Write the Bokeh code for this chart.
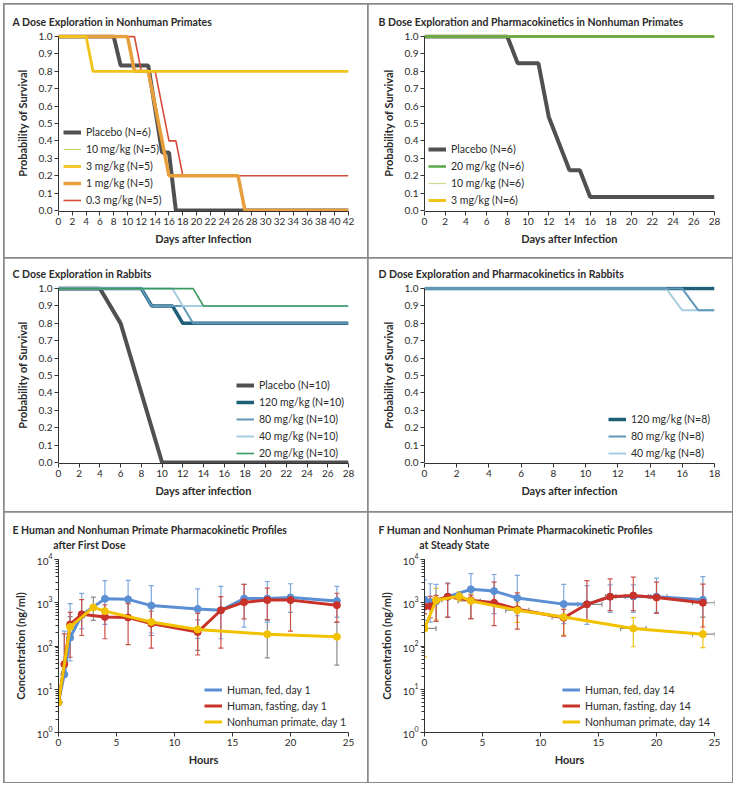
from bokeh.plotting import figure
from bokeh.layouts import column, row
from bokeh.models import (Range1d, FixedTicker, NumeralTickFormatter, Legend, LegendItem,
                          Whisker, ColumnDataSource, TeeHead)
from bokeh.embed import file_html
from bokeh.resources import INLINE

FONT = "Lato"
TXT = "#2b2b2b"

# ---------------- Panel A: Dose exploration in nonhuman primates ----------------
A_placebo_x = [0, 8, 9, 13, 15, 16, 17, 42]
A_placebo_y = [1.0, 1.0, 0.833, 0.833, 0.333, 0.333, 0.0, 0.0]
A_10_x = [0, 10, 11, 42]
A_10_y = [1.0, 1.0, 0.8, 0.8]
A_3_x = [0, 4, 5, 42]
A_3_y = [1.0, 1.0, 0.8, 0.8]
A_1_x = [0, 10, 11, 13, 16, 26, 27, 42]
A_1_y = [1.0, 1.0, 0.8, 0.8, 0.2, 0.2, 0.0, 0.0]
A_03_x = [0, 11, 12, 14, 16, 17, 18, 42]
A_03_y = [1.0, 1.0, 0.8, 0.8, 0.4, 0.4, 0.2, 0.2]
A_xticks = list(range(0, 43, 2))

# ---------------- Panel B ----------------
B_placebo_x = [0, 8, 9, 11, 12, 14, 15, 16, 28]
B_placebo_y = [1.0, 1.0, 0.846, 0.846, 0.538, 0.231, 0.231, 0.077, 0.077]
B_20_x = [0, 28]
B_20_y = [1.0, 1.0]
B_10_x = [0, 28]
B_10_y = [1.0, 1.0]
B_3_x = [0, 28]
B_3_y = [1.0, 1.0]
B_xticks = list(range(0, 29, 2))

# ---------------- Panel C ----------------
C_placebo_x = [0, 4, 6, 10, 28]
C_placebo_y = [1.0, 1.0, 0.8, 0.0, 0.0]
C_120_x = [0, 8, 9, 11, 12, 28]
C_120_y = [1.0, 1.0, 0.9, 0.9, 0.8, 0.8]
C_80_x = [0, 8, 9, 12, 13, 28]
C_80_y = [1.0, 1.0, 0.9, 0.9, 0.8, 0.8]
C_40_x = [0, 11, 12, 28]
C_40_y = [1.0, 1.0, 0.9, 0.9]
C_20_x = [0, 13, 14, 28]
C_20_y = [1.0, 1.0, 0.9, 0.9]
C_xticks = list(range(0, 29, 2))

# ---------------- Panel D ----------------
D_120_x = [0, 18]
D_120_y = [1.0, 1.0]
D_80_x = [0, 16, 17, 18]
D_80_y = [1.0, 1.0, 0.875, 0.875]
D_40_x = [0, 15, 16, 18]
D_40_y = [1.0, 1.0, 0.875, 0.875]
D_xticks = list(range(0, 19, 2))

Y_ticks = [0.0, 0.1, 0.2, 0.3, 0.4, 0.5, 0.6, 0.7, 0.8, 0.9, 1.0]

# ---------------- Panel E: PK after first dose ----------------
E_h = [0, 0.5, 1, 2, 4, 6, 8, 12, 14, 16, 18, 20, 24]
E_fed = [5, 22, 155, 520, 1230, 1200, 860, 720, 670, 1250, 1250, 1320, 1100]
E_fed_hi = [5, 220, 950, 1650, 3250, 3300, 2500, 2100, 2400, 2650, 3100, 2750, 2400]
E_fed_lo = [5, 20, 45, 250, 315, 420, 200, 150, 147, 273, 355, 600, 465]
E_fast = [5, 38, 315, 540, 470, 455, 330, 210, 670, 1030, 1150, 1150, 880]
E_fast_hi = [5, 190, 600, 1180, 900, 950, 770, 565, 1390, 2650, 2180, 1550, 1660]
E_fast_lo = [5, 38, 55, 175, 147, 108, 89, 62, 89, 425, 410, 220, 355]
E_nhp_h = [0, 1, 3, 4, 8, 12, 18, 24]
E_nhp = [5, 277, 780, 640, 360, 240, 187, 163]
E_nhp_hi = [9.5, 480, 1350, 640, 640, 400, 390, 355]
E_nhp_lo = [5, 140, 390, 640, 175, 79, 53, 36]

# ---------------- Panel F: PK at steady state ----------------
F_h = [0, 0.5, 1, 2, 4, 6, 8, 12, 14, 16, 18, 20, 24]
F_fed = [1180, 1040, 1080, 1380, 2040, 1860, 1290, 930, 920, 1390, 1400, 1380, 1180]
F_fed_hi = [3400, 2750, 2650, 2900, 4700, 4500, 4300, 2650, 2500, 2600, 2600, 3700, 4000]
F_fed_lo = [390, 355, 370, 470, 430, 560, 500, 330, 315, 600, 600, 600, 460]
F_fed_xlo = [0, 0.5, 1, 2, 4, 6, 8, 12, 13.2, 15.6, 17.3, 19.5, 24]
F_fed_xhi = [0, 0.5, 1, 2, 4, 6, 8, 12, 15.3, 16.5, 19.3, 20.9, 24]
F_fast = [810, 830, 1140, 1380, 1140, 1000, 710, 450, 920, 1380, 1470, 1320, 1000]
F_fast_hi = [1350, 1400, 1480, 2750, 1500, 3000, 1700, 700, 3250, 3550, 3900, 3000, 2700]
F_fast_lo = [560, 450, 370, 460, 430, 295, 245, 170, 390, 660, 660, 570, 275]
F_fast_xlo = [0, 0.5, 1, 2, 4, 6, 8, 12, 14, 16, 18, 20, 23.1]
F_fast_xhi = [0, 0.5, 1, 2, 4, 6, 8, 12, 14, 16, 18, 20, 25.0]
F_nhp_h = [0, 1, 3, 4, 8, 12, 18, 24]
F_nhp = [255, 1140, 1420, 1100, 670, 470, 255, 188]
F_nhp_hi = [560, 2150, 1800, 1600, 1000, 830, 455, 470]
F_nhp_lo = [56, 400, 1100, 430, 350, 178, 96, 92]
F_nhp_xlo = [0, 1.0, 3, 2.9, 7.0, 11.0, 16.9, 23.1]
F_nhp_xhi = [1.0, 1.5, 3, 4.8, 9.0, 12.5, 19.1, 25.0]

PK_xticks = [0, 5, 10, 15, 20, 25]

# colours
C_PLACEBO = "#505050"
C_OLIVE = "#c6d36c"
C_YELLOW = "#f2c318"
C_ORANGE = "#e79f3c"
C_RED = "#d64c3a"
C_GREEN = "#5aa84a"
C_LGREEN = "#cadc92"
C_TEAL = "#1e5f78"
C_MBLUE = "#6198b8"
C_LBLUE = "#a8cde1"
C_RGREEN = "#3b9a62"
PK_BLUE = "#5b8fd4"
PK_BLUE_BAR = "#7ea8dc"
PK_RED = "#c83228"
PK_RED_BAR = "#cd5048"
PK_YEL = "#f2c200"
PK_GRAY = "#8a8a8a"

BORDER = {"outline": "2px solid #8a8a8a", "outline-offset": "-1px"}
TITLE_FS = "10.5px"
INDENT = "\u00a0" * 16


def style_axes(p):
    for ax in p.axis:
        ax.axis_line_color = "#333333"
        ax.axis_line_width = 1
        ax.major_tick_line_color = "#333333"
        ax.major_tick_in = 0
        ax.major_tick_out = 4
        ax.minor_tick_line_color = None
        ax.major_label_text_font = FONT
        ax.major_label_text_font_size = "10px"
        ax.major_label_text_color = TXT
        ax.major_label_standoff = 2
        ax.axis_label_text_font = FONT
        ax.axis_label_text_font_style = "bold"
        ax.axis_label_text_font_size = "11px"
        ax.axis_label_text_color = TXT
    p.xaxis.axis_label_standoff = 4
    p.yaxis.axis_label_standoff = 7


def set_title(p, text, offset, standoff):
    p.title.text = text
    p.title.text_font = FONT
    p.title.text_font_style = "bold"
    p.title.text_font_size = TITLE_FS
    p.title.text_color = TXT
    p.title.align = "left"
    p.title.offset = offset
    p.title.standoff = standoff


def survival_fig(height, xmax, xticks, title, xlabel, left, right, top, bottom):
    p = figure(width=364, height=height, output_backend="svg", toolbar_location=None,
               x_range=Range1d(0, xmax), y_range=Range1d(-0.006, 1.012),
               min_border_left=left, min_border_right=right,
               min_border_top=top, min_border_bottom=bottom)
    p.outline_line_color = None
    p.grid.visible = False
    p.xaxis.ticker = FixedTicker(ticks=xticks)
    p.yaxis.ticker = FixedTicker(ticks=Y_ticks)
    p.yaxis.formatter = NumeralTickFormatter(format="0.0")
    p.yaxis.bounds = (0, 1)
    p.xaxis.axis_label = xlabel
    p.yaxis.axis_label = "Probability of Survival"
    style_axes(p)
    set_title(p, title, -46, 14)
    p.styles = BORDER
    return p


def add_legend(p, items, loc, fs="10.5px", lh=16):
    lg = Legend(items=[LegendItem(label=l, renderers=[r]) for l, r in items],
                location=loc, background_fill_alpha=0, border_line_color=None,
                padding=0, margin=0, spacing=1, glyph_width=18, glyph_height=lh,
                label_height=lh, label_standoff=5, label_text_font=FONT,
                label_text_font_size=fs, label_text_color=TXT)
    p.add_layout(lg)


# ---- A ----
pa = survival_fig(254, 42, A_xticks, "A  Dose Exploration in Nonhuman Primates",
                  "Days after Infection", 54, 20, 30, 47)
rA_pl = pa.line(A_placebo_x, A_placebo_y, line_color=C_PLACEBO, line_width=4)
rA_03 = pa.line(A_03_x, A_03_y, line_color=C_RED, line_width=1.6)
rA_10 = pa.line(A_10_x, A_10_y, line_color=C_OLIVE, line_width=1.2)
rA_1 = pa.line(A_1_x, A_1_y, line_color=C_ORANGE, line_width=3.5)
rA_3 = pa.line(A_3_x, A_3_y, line_color=C_YELLOW, line_width=2.8)
add_legend(pa, [("Placebo (N=6)", rA_pl), ("10 mg/kg (N=5)", rA_10), ("3 mg/kg (N=5)", rA_3),
                ("1 mg/kg (N=5)", rA_1), ("0.3 mg/kg (N=5)", rA_03)], (5, 3))

# ---- B ----
pb = survival_fig(254, 28, B_xticks, "B  Dose Exploration and Pharmacokinetics in Nonhuman Primates",
                  "Days after Infection", 56, 18, 30, 47)
rB_pl = pb.line(B_placebo_x, B_placebo_y, line_color=C_PLACEBO, line_width=4)
rB_3 = pb.line(B_3_x, B_3_y, line_color=C_YELLOW, line_width=3)
rB_10 = pb.line(B_10_x, B_10_y, line_color=C_LGREEN, line_width=1.2)
rB_20 = pb.line(B_20_x, B_20_y, line_color=C_GREEN, line_width=2.5)
add_legend(pb, [("Placebo (N=6)", rB_pl), ("20 mg/kg (N=6)", rB_20), ("10 mg/kg (N=6)", rB_10),
                ("3 mg/kg (N=6)", rB_3)], (4, 3))

# ---- C ----
pc = survival_fig(254, 28, C_xticks, "C  Dose Exploration in Rabbits",
                  "Days after infection", 54, 20, 28, 49)
rC_pl = pc.line(C_placebo_x, C_placebo_y, line_color=C_PLACEBO, line_width=4)
rC_120 = pc.line(C_120_x, C_120_y, line_color=C_TEAL, line_width=3.5)
rC_80 = pc.line(C_80_x, C_80_y, line_color=C_MBLUE, line_width=2)
rC_40 = pc.line(C_40_x, C_40_y, line_color=C_LBLUE, line_width=2)
rC_20 = pc.line(C_20_x, C_20_y, line_color=C_RGREEN, line_width=1.6)
add_legend(pc, [("Placebo (N=10)", rC_pl), ("120 mg/kg (N=10)", rC_120), ("80 mg/kg (N=10)", rC_80),
                ("40 mg/kg (N=10)", rC_40), ("20 mg/kg (N=10)", rC_20)], (178, 2))

# ---- D ----
pd_ = survival_fig(254, 18, D_xticks, "D  Dose Exploration and Pharmacokinetics in Rabbits",
                   "Days after infection", 56, 18, 28, 49)
rD_120 = pd_.line(D_120_x, D_120_y, line_color=C_TEAL, line_width=3.5)
rD_40 = pd_.line(D_40_x, D_40_y, line_color=C_LBLUE, line_width=2)
rD_80 = pd_.line(D_80_x, D_80_y, line_color=C_MBLUE, line_width=2)
add_legend(pd_, [("120 mg/kg (N=8)", rD_120), ("80 mg/kg (N=8)", rD_80),
                 ("40 mg/kg (N=8)", rD_40)], (184, 2))


# ---- E / F ----
def pk_fig(line1, line2, left, right):
    p = figure(width=364, height=270, output_backend="svg", toolbar_location=None,
               x_range=Range1d(0, 25), y_range=Range1d(1, 10000), y_axis_type="log",
               min_border_left=left, min_border_right=right,
               min_border_top=47, min_border_bottom=50)
    p.outline_line_color = None
    p.grid.visible = False
    p.xaxis.ticker = FixedTicker(ticks=PK_xticks)
    p.xaxis.axis_label = "Hours"
    p.yaxis.axis_label = "Concentration (ng/ml)"
    style_axes(p)
    p.yaxis.minor_tick_line_color = "#333333"
    p.yaxis.minor_tick_in = 0
    p.yaxis.minor_tick_out = 3
    set_title(p, line1 + "\n" + INDENT + line2, -46, 18)
    p.title.text_line_height = 1.25
    p.styles = BORDER
    return p


def whisk(p, base, lo, hi, color, dim="height"):
    src = ColumnDataSource(dict(b=base, lo=lo, hi=hi))
    w = Whisker(source=src, base="b", lower="lo", upper="hi", dimension=dim,
                line_color=color, line_width=1.2,
                upper_head=TeeHead(size=5, line_color=color, line_width=1.2),
                lower_head=TeeHead(size=5, line_color=color, line_width=1.2))
    p.add_layout(w)


pe = pk_fig("E  Human and Nonhuman Primate Pharmacokinetic Profiles", "after First Dose", 54, 20)
whisk(pe, E_nhp_h, E_nhp_lo, E_nhp_hi, PK_GRAY)
whisk(pe, E_h, E_fed_lo, E_fed_hi, PK_BLUE_BAR)
whisk(pe, E_h, E_fast_lo, E_fast_hi, PK_RED_BAR)
rE_fed = pe.line(E_h, E_fed, line_color=PK_BLUE, line_width=3)
pe.scatter(E_h, E_fed, size=7, color=PK_BLUE)
rE_fast = pe.line(E_h, E_fast, line_color=PK_RED, line_width=3)
pe.scatter(E_h, E_fast, size=7, color=PK_RED)
rE_nhp = pe.line(E_nhp_h, E_nhp, line_color=PK_YEL, line_width=3)
pe.scatter(E_nhp_h, E_nhp, size=7, color=PK_YEL)
add_legend(pe, [("Human, fed, day 1", rE_fed), ("Human, fasting, day 1", rE_fast),
                ("Nonhuman primate, day 1", rE_nhp)], (146, 3), fs="10.5px", lh=15)

pf = pk_fig("F  Human and Nonhuman Primate Pharmacokinetic Profiles", "at Steady State", 56, 18)
whisk(pf, F_nhp, F_nhp_xlo, F_nhp_xhi, PK_GRAY, dim="width")
whisk(pf, F_fed, F_fed_xlo, F_fed_xhi, PK_GRAY, dim="width")
whisk(pf, F_fast, F_fast_xlo, F_fast_xhi, PK_GRAY, dim="width")
whisk(pf, F_nhp_h, F_nhp_lo, F_nhp_hi, "#f0c419")
whisk(pf, F_h, F_fed_lo, F_fed_hi, PK_BLUE_BAR)
whisk(pf, F_h, F_fast_lo, F_fast_hi, PK_RED_BAR)
rF_fed = pf.line(F_h, F_fed, line_color=PK_BLUE, line_width=3)
pf.scatter(F_h, F_fed, size=7, color=PK_BLUE)
rF_fast = pf.line(F_h, F_fast, line_color=PK_RED, line_width=3)
pf.scatter(F_h, F_fast, size=7, color=PK_RED)
rF_nhp = pf.line(F_nhp_h, F_nhp, line_color=PK_YEL, line_width=3)
pf.scatter(F_nhp_h, F_nhp, size=7, color=PK_YEL)
add_legend(pf, [("Human, fed, day 14", rF_fed), ("Human, fasting, day 14", rF_fast),
                ("Nonhuman primate, day 14", rF_nhp)], (138, 3), fs="10.5px", lh=15)

layout = column(row(pa, pb), row(pc, pd_), row(pe, pf))
layout.margin = (4, 0, 0, 4)
open("out.html", "w").write(file_html(layout, INLINE))
